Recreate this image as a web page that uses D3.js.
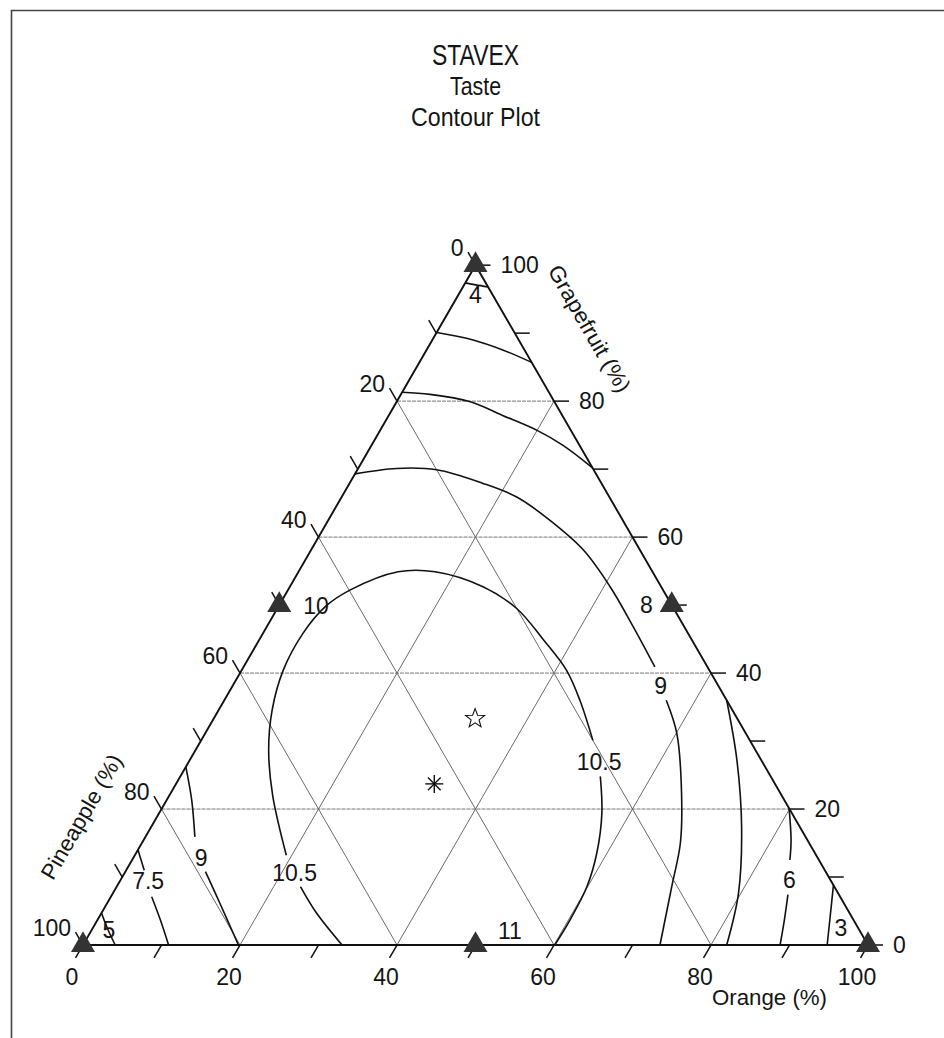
<!DOCTYPE html>
<html><head><meta charset="utf-8">
<script src="https://cdn.jsdelivr.net/npm/d3@7"></script>
<style>
body{margin:0;background:#fff;}
svg{display:block;}
text{font-family:"Liberation Sans",Arial,Helvetica,sans-serif;fill:#151515;}
</style></head><body>
<svg id="c" width="944" height="1038"></svg>
<script>
// ---------------- data ----------------
const titleLines = ["STAVEX", "Taste", "Contour Plot"];
const axisTitles = { pineapple: "Pineapple (%)", orange: "Orange (%)", grapefruit: "Grapefruit (%)" };
const tickValues = [0,10,20,30,40,50,60,70,80,90,100];
const tickLabelValues = [0,20,40,60,80,100];
const gridValues = [20,40,60,80];

// design points (orange %, grapefruit %; pineapple = rest) and observed taste
const designOrange = [0, 100, 0, 0, 50, 50];
const designGrapefruit = [0, 0, 100, 50, 50, 0];
const designTaste = ["5", "3", "4", "10", "8", "11"];
const centroidPoint = [33.3, 33.3];
const optimumPoint = [32.9, 23.7];

// contour segments: [orange %, grapefruit %]
const c45Top    = [[0,97.4],[1.5,97.1],[3.2,96.8]];
const c45Right  = [[91.2,8.8],[93.0,4.4],[94.8,0]];
const c6Top     = [[0,90.1],[5.2,89.0],[9.8,87.5],[14.3,85.7]];
const c6RightA  = [[79.9,20.1],[82.5,15.4],[83.8,12.5]];
const c6RightB  = [[86.1,7.4],[87.5,3.7],[88.8,0]];
const c6Left    = [[0,4.7],[2.1,2.2],[4.1,0]];
const c75Top    = [[0,81.3],[3.7,81.0],[9.4,79.9],[14.5,77.9],[20.0,75.7],[24.4,73.5],[29.8,70.2]];
const c75Right  = [[64.0,36.0],[69.7,27.2],[75.2,17.4],[79.7,7.6],[82.0,0]];
const c75LeftA  = [[0,14.0],[2.3,11.0]];
const c75LeftB  = [[5.2,7.1],[8.0,3.7],[10.9,0]];
const c9MainA   = [[0,69.3],[4.9,70.1],[10.1,69.9],[17.0,67.9],[22.3,65.9],[28.2,62.5],[34.7,58.1],[40.8,52.7],[46.7,46.8],[52.4,40.9]];
const c9MainB   = [[56.3,36.0],[60.1,31.1],[65.1,22.3],[68.6,15.0],[70.7,8.6],[73.5,0]];
const c9LeftA   = [[0,26.2],[3.2,21.3],[6.3,15.9]];
const c9LeftB   = [[10.2,10.8],[14.4,6.1],[19.8,0]];
const c105A     = [[33.0,0],[27.4,4.7],[23.4,8.6]];
const c105B     = [[19.3,13.2],[13.1,22.1],[9.3,28.7],[6.8,34.6],[5.3,40.4],[5.1,45.8],[6.0,49.8],[7.9,52.2],[12.7,54.9],[17.4,54.9],[24.6,52.7],[30.5,49.5],[36.2,44.9],[41.4,40.4],[45.3,36.0],[49.9,30.1]];
const c105C     = [[53.5,24.8],[56.4,19.4],[58.7,13.5],[59.9,8.6],[60.2,3.7],[60.1,0]];

const contourLabelText = ["6", "7.5", "9", "9", "10.5", "10.5"];
const contourLabelOrange = [85.2, 3.6, 54.5, 8.6, 21.6, 52.3];
const contourLabelGrapefruit = [9.6, 9.4, 38.2, 12.9, 10.7, 26.9];

// ---------------- drawing ----------------
const svg = d3.select("#c");
const side = 785;
const xS = d3.scaleLinear().domain([0,100]).range([83, 868]);
const yS = d3.scaleLinear().domain([0,100]).range([945, 945 - side*Math.sqrt(3)/2]);
const proj = (o,g) => [xS(o + g/2), yS(g)];
const FS = 23;

// frame (scan border)
svg.append("path").attr("d","M11.5,1045 V10.5 H955")
  .attr("fill","none").attr("stroke","#444").attr("stroke-width",1.6);

// title
const titleSpec = [
  {size:30, len:87, base:65},
  {size:25, len:51, base:95},
  {size:26, len:129, base:126}
];
titleLines.forEach((t,i)=>{
  const s = titleSpec[i];
  svg.append("text").attr("x", 475.5 - s.len/2).attr("y", s.base)
    .attr("font-size", s.size).attr("textLength", s.len)
    .attr("lengthAdjust","spacingAndGlyphs").text(t);
});

// grid
const gGrid = svg.append("g");
gridValues.forEach(v=>{
  const h = [proj(0,v), proj(100-v,v)];
  gGrid.append("line").attr("x1",h[0][0]).attr("y1",h[0][1]).attr("x2",h[1][0]).attr("y2",h[1][1])
    .attr("stroke","#777").attr("stroke-width",1).attr("stroke-dasharray","4,1");
  const a = [proj(v,0), proj(v,100-v)];
  gGrid.append("line").attr("x1",a[0][0]).attr("y1",a[0][1]).attr("x2",a[1][0]).attr("y2",a[1][1])
    .attr("stroke","#5a5a5a").attr("stroke-width",0.9);
  const b = [proj(100-v,0), proj(0,100-v)];
  gGrid.append("line").attr("x1",b[0][0]).attr("y1",b[0][1]).attr("x2",b[1][0]).attr("y2",b[1][1])
    .attr("stroke","#5a5a5a").attr("stroke-width",0.9);
});

// contours
const line = d3.line()
  .x(d=>proj(d[0],d[1])[0]).y(d=>proj(d[0],d[1])[1])
  .curve(d3.curveCatmullRom.alpha(0.5));
const segments = [c45Top,c45Right,c6Top,c6RightA,c6RightB,c6Left,c75Top,c75Right,c75LeftA,c75LeftB,
  c9MainA,c9MainB,c9LeftA,c9LeftB,c105A,c105B,c105C];
const gC = svg.append("g");
segments.forEach(seg=>{
  gC.append("path").attr("d", line(seg)).attr("fill","none")
    .attr("stroke","#111").attr("stroke-width",1.6);
});
contourLabelText.forEach((t,i)=>{
  const p = proj(contourLabelOrange[i], contourLabelGrapefruit[i]);
  gC.append("text").attr("x",p[0]).attr("y",p[1]).attr("dy","0.36em")
    .attr("text-anchor","middle").attr("font-size",FS).text(t);
});

// triangle outline
const corners = [proj(0,0), proj(100,0), proj(0,100)];
svg.append("path").attr("d","M"+corners.map(c=>c.join(",")).join("L")+"Z")
  .attr("fill","none").attr("stroke","#111").attr("stroke-width",1.9).attr("stroke-linejoin","miter");

// ticks and tick labels
const gT = svg.append("g");
const TL = 15, c60 = 0.5, s60 = Math.sqrt(3)/2;
tickValues.forEach(v=>{
  // pineapple (left edge)
  let p = proj(0, 100 - v);
  gT.append("line").attr("x1",p[0]).attr("y1",p[1]).attr("x2",p[0]-TL*c60).attr("y2",p[1]-TL*s60)
    .attr("stroke","#111").attr("stroke-width",1.5);
  if (tickLabelValues.includes(v))
    gT.append("text").attr("x",p[0]-12).attr("y",p[1]-9).attr("text-anchor","end")
      .attr("font-size",FS).text(v);
  // orange (bottom edge)
  p = proj(v, 0);
  gT.append("line").attr("x1",p[0]).attr("y1",p[1]).attr("x2",p[0]-TL*c60).attr("y2",p[1]+TL*s60)
    .attr("stroke","#111").attr("stroke-width",1.5);
  if (tickLabelValues.includes(v))
    gT.append("text").attr("x",p[0]-11).attr("y",p[1]+40).attr("text-anchor","middle")
      .attr("font-size",FS).text(v);
  // grapefruit (right edge)
  p = proj(100 - v, v);
  gT.append("line").attr("x1",p[0]).attr("y1",p[1]).attr("x2",p[0]+TL).attr("y2",p[1])
    .attr("stroke","#111").attr("stroke-width",1.5);
  if (tickLabelValues.includes(v))
    gT.append("text").attr("x",p[0]+25).attr("y",p[1]+8).attr("text-anchor","start")
      .attr("font-size",FS).text(v);
});

// axis titles
svg.append("text").attr("transform","translate(589,329) rotate(60)")
  .attr("text-anchor","middle").attr("dy","0.32em").attr("font-size",22)
  .attr("textLength",143).attr("lengthAdjust","spacingAndGlyphs").text(axisTitles.grapefruit);
svg.append("text").attr("transform","translate(82,817) rotate(-60)")
  .attr("text-anchor","middle").attr("dy","0.32em").attr("font-size",22)
  .attr("textLength",140).attr("lengthAdjust","spacingAndGlyphs").text(axisTitles.pineapple);
svg.append("text").attr("x",712).attr("y",1005).attr("font-size",22)
  .attr("textLength",115).attr("lengthAdjust","spacingAndGlyphs").text(axisTitles.orange);

// design point markers + observed values
const labelOffsets = [[26,-7,"middle"],[-27,-9,"middle"],[0,38,"middle"],[24,9,"start"],[-19,8,"end"],[22.5,-6,"start"]];
const tri = d3.symbol().type(d3.symbolTriangle).size(250);
designOrange.forEach((o,i)=>{
  const p = proj(o, designGrapefruit[i]);
  svg.append("path").attr("d",tri()).attr("transform",`translate(${p[0]},${p[1]})`)
    .attr("fill","#333");
  const off = labelOffsets[i];
  svg.append("text").attr("x",p[0]+off[0]).attr("y",p[1]+off[1]).attr("text-anchor",off[2])
    .attr("font-size",FS).text(designTaste[i]);
});

// centroid star (outline)
(function(){
  const p = proj(centroidPoint[0], centroidPoint[1]);
  const pts = d3.range(10).map(k=>{
    const r = k%2===0 ? 10 : 4.2;
    const a = -Math.PI/2 + k*Math.PI/5;
    return [p[0]+r*Math.cos(a), p[1]+r*Math.sin(a)];
  });
  svg.append("path").attr("d","M"+pts.map(q=>q.join(",")).join("L")+"Z")
    .attr("fill","none").attr("stroke","#111").attr("stroke-width",1.1);
})();

// optimum asterisk
(function(){
  const p = proj(optimumPoint[0], optimumPoint[1]);
  [0,45,90,135].forEach(a=>{
    const r = 9, rad = a*Math.PI/180;
    svg.append("line").attr("x1",p[0]-r*Math.cos(rad)).attr("y1",p[1]-r*Math.sin(rad))
      .attr("x2",p[0]+r*Math.cos(rad)).attr("y2",p[1]+r*Math.sin(rad))
      .attr("stroke","#111").attr("stroke-width",1.4);
  });
})();
</script>
</body></html>
